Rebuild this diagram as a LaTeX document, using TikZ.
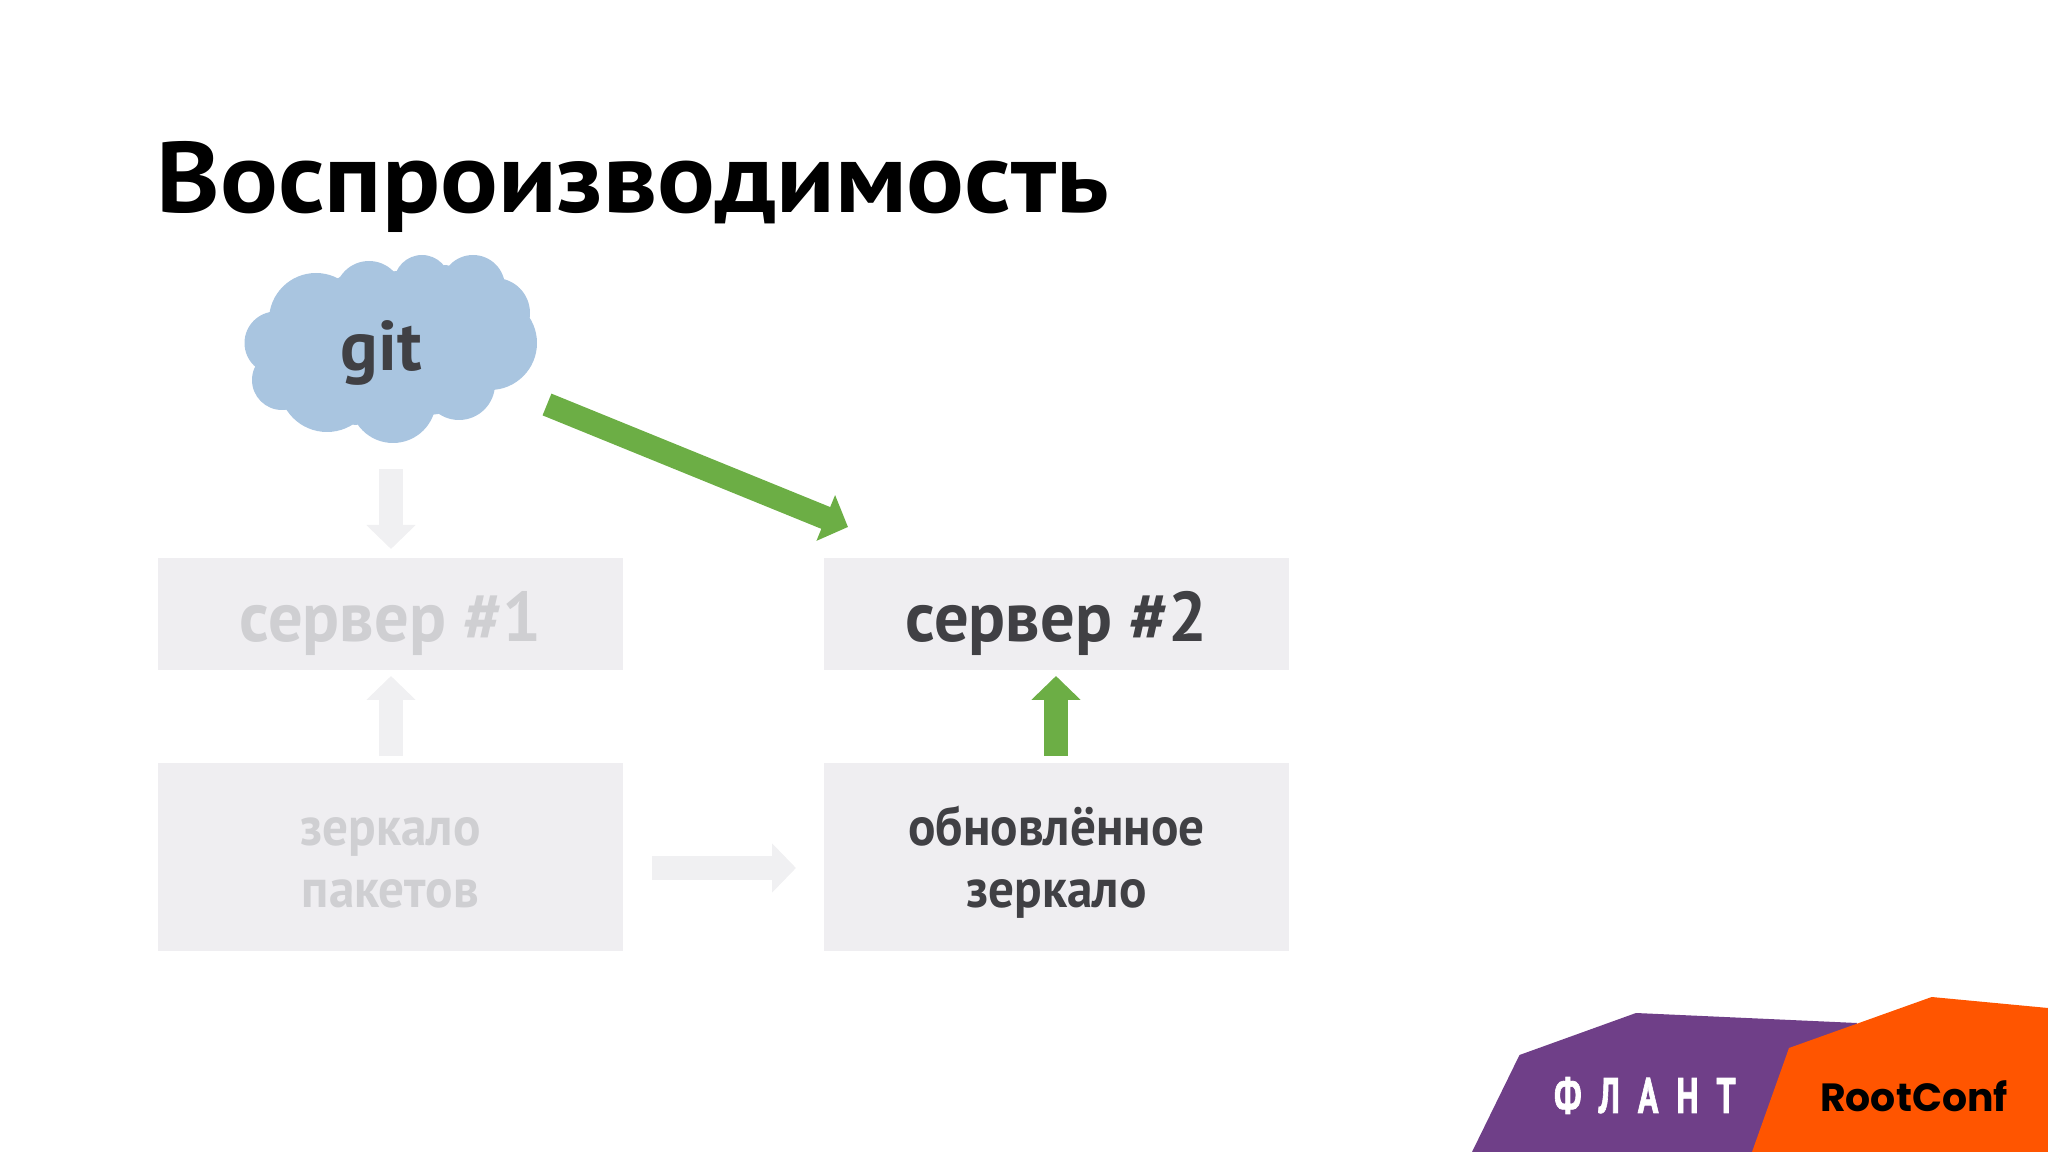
\documentclass[tikz,border=0pt]{standalone}
\usepackage{fontspec}
\setmainfont{PT Sans}
\newfontfamily\titlefont[FakeStretch=1.075]{PT Sans}
\newfontfamily\srvfont[FakeStretch=0.975]{PT Sans}
\newfontfamily\mirrorfont[FakeStretch=0.94]{PT Sans}
\newfontfamily\logofont[LetterSpace=36,FakeStretch=0.68,BoldFeatures={FakeBold=1.2}]{PT Sans}
\newfontfamily\confont{Poppins}
\usetikzlibrary{arrows.meta}
\definecolor{boxgray}{HTML}{EFEEF1}
\definecolor{arrowgray}{HTML}{F0F0F2}
\definecolor{darktext}{HTML}{404044}
\definecolor{fadedtext}{HTML}{CFCFD2}
\definecolor{okgreen}{HTML}{6CAE45}
\definecolor{cloudblue}{HTML}{A9C5E0}
\definecolor{flantviolet}{HTML}{6F3F88}
\definecolor{confred}{HTML}{FF5500}
\tikzset{
  srvbox/.style={fill=boxgray,inner sep=0pt,minimum width=4.65cm,minimum height=1.12cm,text height=.835cm,text depth=.285cm,font=\srvfont\fontsize{20}{20}\selectfont\bfseries},
  mirrorbox/.style={fill=boxgray,inner sep=0pt,minimum width=4.65cm,minimum height=1.88cm,text height=1.443cm,text depth=.437cm,align=center,font=\mirrorfont\fontsize{15.5}{17.6}\selectfont\bfseries},
  fatarrow/.style={line width=.235cm,-{Triangle[length=.24cm,width=.48cm]}}
}
\begin{document}
\begin{tikzpicture}
\useasboundingbox (0,0) rectangle (20.48,-11.52);

\node[anchor=base west,inner sep=0pt,font=\titlefont\fontsize{28.5}{28.5}\selectfont\bfseries] (title) at (1.56,-2.13) {Воспроизводимость};

% cloud
\fill[cloudblue] (2.71,-3.19) -- (3.40,-2.77) -- (3.97,-2.71) -- (4.46,-2.65) -- (5.03,-2.79) -- (5.285,-3.23)
  -- (4.97,-3.86) -- (4.38,-4.14) -- (3.55,-4.25) -- (2.84,-4.09) -- (2.60,-3.66) -- cycle;
\fill[cloudblue] (3.16,-3.20) circle (.47) (3.69,-2.95) circle (.34) (4.22,-2.83) circle (.28)
  (4.73,-2.87) circle (.32) (4.95,-3.13) circle (.35) (4.90,-3.43) circle (.47)
  (4.59,-3.84) circle (.36) (3.93,-4.00) circle (.43) (3.27,-3.84) circle (.48)
  (2.82,-3.80) circle (.30) (2.76,-3.43) circle (.315);
\node[inner sep=0pt,text=darktext,font=\fontsize{20}{20}\selectfont\bfseries] (git) at (3.81,-3.53) {git};

\node[srvbox,text=fadedtext] (srv1) at (3.905,-6.14) {сервер \#1};
\node[srvbox,text=darktext] (srv2) at (10.565,-6.14) {сервер \#2};
\node[mirrorbox,text=fadedtext] (mirror1) at (3.905,-8.57) {зеркало\\пакетов};
\node[mirrorbox,text=darktext] (mirror2) at (10.565,-8.57) {обновлённое\\зеркало};

\coordinate (a1) at (3.91,-4.69);
\coordinate (a2) at (3.91,-5.49);
\coordinate (b1) at (3.91,-7.56);
\coordinate (b2) at (3.91,-6.76);
\coordinate (c1) at (6.52,-8.68);
\coordinate (c2) at (7.96,-8.68);
\coordinate (d1) at (10.56,-7.56);
\coordinate (d2) at (10.56,-6.76);
\coordinate (e1) at (5.47,-4.045);
\coordinate (e2) at (8.48,-5.27);

\path[draw,fatarrow,arrowgray] (a1) -- (a2);
\path[draw,fatarrow,arrowgray] (b1) -- (b2);
\path[draw,fatarrow,arrowgray] (c1) -- (c2);
\path[draw,fatarrow,okgreen] (d1) -- (d2);
\path[draw,fatarrow,okgreen] (e1) -- (e2);

% logos
\fill[flantviolet] (16.36,-10.13) -- (15.195,-10.55) -- (14.72,-11.52) -- (18.0,-11.52) -- (18.57,-10.23) -- cycle;
\fill[confred] (19.317,-9.97) -- (20.48,-10.08) -- (20.48,-11.52) -- (17.52,-11.52) -- (17.89,-10.48) -- cycle;
\node[inner sep=0pt,text=white,font=\logofont\fontsize{14.2}{14.2}\selectfont\bfseries] (flant) at (16.45,-10.955) {ФЛАНТ};
\node[inner sep=0pt,text=black,font=\confont\fontsize{11.2}{11.2}\selectfont\bfseries] (conf) at (19.14,-10.965) {RootConf};
\end{tikzpicture}
\end{document}
